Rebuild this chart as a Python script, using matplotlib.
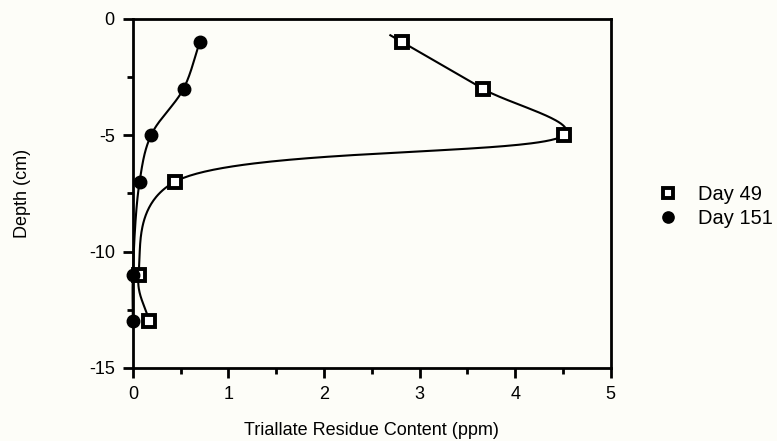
import numpy as np
import matplotlib
matplotlib.use('Agg')
import matplotlib.pyplot as plt
from matplotlib.ticker import MultipleLocator

plt.rcParams['font.family'] = ['Liberation Sans', 'DejaVu Sans']
plt.rcParams['axes.unicode_minus'] = False

# Data

depth = [-1, -3, -5, -7, -11, -13]                    # cm
day49 = [2.82, 3.66, 4.51, 0.44, 0.06, 0.17]          # ppm
day151 = [0.70, 0.53, 0.19, 0.07, 0.0, 0.0]           # ppm

x_ticks = [0, 1, 2, 3, 4, 5]
y_ticks = [0, -5, -10, -15]
# --------------------------------------------------------------------------------------------------


def catmull_rom(ax, xs, ys, lead=0.0, alpha=0.5, n=80):
    # Catmull-Rom through the points, built in screen space
    P = ax.transData.transform(np.column_stack([xs, ys]))
    P = np.vstack([2 * P[0] - P[1], P, 2 * P[-1] - P[-2]])
    dt = np.hypot(*np.diff(P, axis=0).T) ** alpha
    m = []
    for i in range(1, len(P) - 1):
        d0, d1 = dt[i - 1], dt[i]
        m.append((P[i] - P[i - 1]) / d0 - (P[i + 1] - P[i - 1]) / (d0 + d1) + (P[i + 1] - P[i]) / d1)
    m = np.array(m)
    Q = P[1:-1]
    out = []
    for k in range(len(Q) - 1):
        h = dt[k + 1]
        u0 = -lead if k == 0 else 0.0
        u = np.linspace(u0, 1, n)[:, None]
        h00 = 2 * u**3 - 3 * u**2 + 1
        h10 = u**3 - 2 * u**2 + u
        h01 = -2 * u**3 + 3 * u**2
        h11 = u**3 - u**2
        out.append(h00 * Q[k] + h10 * h * m[k] + h01 * Q[k + 1] + h11 * h * m[k + 1])
    return ax.transData.inverted().transform(np.vstack(out))
# --------------------------------------------------------------------------------------------------

fig = plt.figure(figsize=(7.77, 4.41), dpi=100, facecolor='#fdfdf8')
ax = fig.add_axes([0.171, 0.166, 0.615, 0.791])
ax.set_facecolor('#fdfdf8')

ax.set_xlim(0, 5)
ax.set_ylim(-15, 0)

ax.set_xticks(x_ticks)
ax.set_yticks(y_ticks)
ax.xaxis.set_minor_locator(MultipleLocator(0.5))
ax.yaxis.set_minor_locator(MultipleLocator(2.5))
ax.tick_params(which='major', direction='out', length=7, width=2, labelsize=13, pad=6)
ax.tick_params(which='minor', direction='out', length=4, width=2)
ax.tick_params(top=False, right=False)
for s in ax.spines.values():
    s.set_linewidth(2)

ax.set_xlabel('Triallate Residue Content (ppm)', fontsize=13, labelpad=14)
ax.set_ylabel('Depth (cm)', fontsize=13)
ax.yaxis.set_label_coords(-0.213, 0.5)

# Smoothed curves through the points

c49 = catmull_rom(ax, day49, depth, lead=0.15, alpha=0.3)
c151 = catmull_rom(ax, day151, depth)
ax.plot(c49[:, 0], c49[:, 1], color='black', lw=1.5, clip_on=False)
ax.plot(c151[:, 0], c151[:, 1], color='black', lw=1.5, clip_on=False)

ax.plot(day49, depth, 's', markersize=8, markerfacecolor='white', markeredgecolor='black',
        markeredgewidth=2.8, clip_on=False, zorder=4, label='Day 49')
ax.plot(day151, depth, 'o', markersize=9, color='black', clip_on=False, zorder=4,
        label='Day 151')

handles, labels = ax.get_legend_handles_labels()
ax.legend(handles, labels, loc='upper left', bbox_to_anchor=(1.065, 0.575), frameon=False,
          fontsize=14.5, handlelength=0.8, handletextpad=1.1, labelspacing=0.25,
          markerscale=0.9)

plt.savefig('out.png', dpi=100, facecolor=fig.get_facecolor())
